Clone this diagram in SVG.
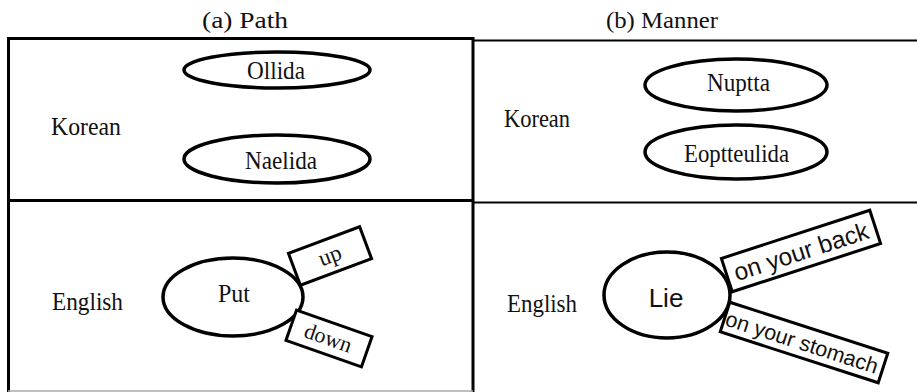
<svg xmlns="http://www.w3.org/2000/svg" width="917" height="392" viewBox="0 0 917 392">
<style>
.serif{font-family:'Liberation Serif','Times New Roman',Times,serif;fill:#111;}
.sans{font-family:'Liberation Sans',Arial,Helvetica,sans-serif;fill:#111;}
.node{fill:#fff;stroke:#000;stroke-width:3.5;}
.box{fill:#fff;stroke:#000;stroke-width:3;}
.frame{stroke:#000;fill:none;}
</style>
<rect width="917" height="392" fill="#fff"/>
<g id="frame">
<line class="frame" x1="8" y1="38.5" x2="474" y2="38.5" stroke-width="3"/>
<line class="frame" x1="8.5" y1="37" x2="8.5" y2="392" stroke-width="3"/>
<line class="frame" x1="8" y1="200.5" x2="473" y2="200.5" stroke-width="3"/>
<line class="frame" x1="473" y1="37" x2="473" y2="392" stroke-width="3"/>
<line class="frame" x1="473" y1="40.5" x2="917" y2="40.5" stroke-width="2"/>
<line class="frame" x1="473" y1="202.5" x2="917" y2="202.5" stroke-width="2"/>
<line x1="8" y1="391" x2="473" y2="391" stroke="#aaa" stroke-width="1.5"/>
</g>
<g id="titles">
<text class="serif" x="202" y="28" font-size="24" textLength="86" lengthAdjust="spacingAndGlyphs">(a) Path</text>
<text class="serif" x="606" y="28" font-size="24" textLength="112" lengthAdjust="spacingAndGlyphs">(b) Manner</text>
</g>
<g id="labels">
<text class="serif" x="51" y="135" font-size="25" textLength="70" lengthAdjust="spacingAndGlyphs">Korean</text>
<text class="serif" x="504" y="127" font-size="25" textLength="66" lengthAdjust="spacingAndGlyphs">Korean</text>
<text class="serif" x="52" y="310" font-size="25" textLength="71" lengthAdjust="spacingAndGlyphs">English</text>
<text class="serif" x="507" y="312" font-size="25" textLength="70" lengthAdjust="spacingAndGlyphs">English</text>
</g>
<g id="node-ollida">
<ellipse class="node" cx="277" cy="70" rx="93" ry="18"/>
<text class="serif" x="247" y="79" font-size="26" textLength="58" lengthAdjust="spacingAndGlyphs">Ollida</text>
</g>
<g id="node-naelida">
<ellipse class="node" cx="277" cy="159" rx="93" ry="24"/>
<text class="serif" x="245" y="169" font-size="26" textLength="72" lengthAdjust="spacingAndGlyphs">Naelida</text>
</g>
<g id="node-nuptta">
<ellipse class="node" cx="736" cy="85" rx="91" ry="26"/>
<text class="serif" x="707" y="91" font-size="26" textLength="63" lengthAdjust="spacingAndGlyphs">Nuptta</text>
</g>
<g id="node-eoptteulida">
<ellipse class="node" cx="736" cy="152" rx="91" ry="27"/>
<text class="serif" x="684" y="162" font-size="26" textLength="105" lengthAdjust="spacingAndGlyphs">Eoptteulida</text>
</g>
<g id="node-put">
<ellipse class="node" cx="233" cy="297" rx="70" ry="39"/>
<text class="serif" x="218" y="302" font-size="26" textLength="32" lengthAdjust="spacingAndGlyphs">Put</text>
</g>
<g id="node-up" transform="translate(330,256) rotate(-20.5)">
<rect class="box" x="-38" y="-17" width="76" height="34"/>
<text class="serif" x="0" y="7" font-size="23" text-anchor="middle">up</text>
</g>
<g id="node-down" transform="translate(329,338.5) rotate(19.3)">
<rect class="box" x="-40" y="-16" width="80" height="32"/>
<text class="serif" x="-1" y="7" font-size="22" text-anchor="middle">down</text>
</g>
<g id="node-lie">
<ellipse class="node" cx="667" cy="295" rx="63" ry="43"/>
<text class="sans" x="666" y="307" font-size="26" text-anchor="middle">Lie</text>
</g>
<g id="node-back" transform="translate(801,251) rotate(-18)">
<rect class="box" x="-78" y="-17.5" width="156" height="35"/>
<text class="sans" x="0" y="9" font-size="24.5" text-anchor="middle">on your back</text>
</g>
<g id="node-stomach" transform="translate(804,342.5) rotate(17.9)">
<rect class="box" x="-83" y="-15.5" width="166" height="31"/>
<text class="sans" x="-2" y="8" font-size="21.5" text-anchor="middle">on your stomach</text>
</g>
<g id="connectors"></g>
</svg>
